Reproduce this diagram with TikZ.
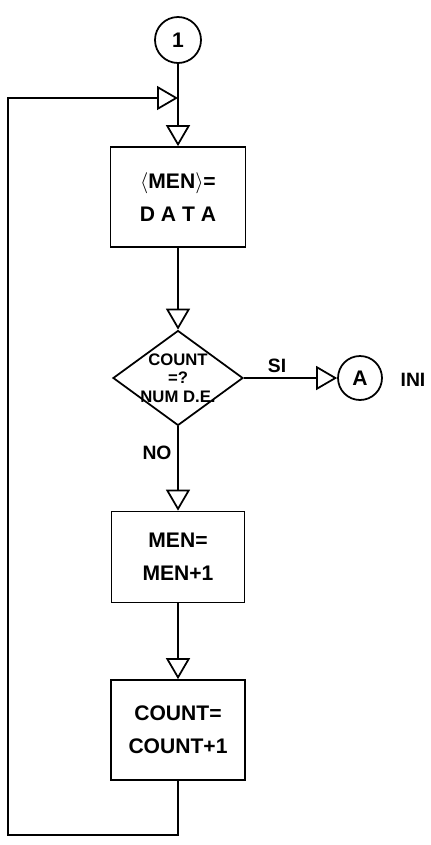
\documentclass[tikz,border=0pt]{standalone}
\usepackage{fontspec}
\setmainfont{Liberation Sans}
\usetikzlibrary{arrows.meta,positioning,shapes.geometric}
\tikzset{
  procbox/.style={
    draw, line width=1pt,
    minimum width=2.7cm, minimum height=2cm,
    align=center, font=\fontsize{12}{19}\selectfont\bfseries,
  },
  decbox/.style={
    draw, diamond, line width=1pt, aspect=1.37,
    minimum width=2.6cm, minimum height=1.9cm, inner sep=-3pt,
    align=center, font=\fontsize{9.5}{10.5}\selectfont\bfseries,
  },
  connector/.style={
    draw, circle, line width=1pt, minimum size=0.92cm, inner sep=0pt,
    font=\fontsize{12}{13}\selectfont\bfseries,
  },
  flowlabel/.style={
    font=\fontsize{11}{12}\selectfont\bfseries,
  },
  arr/.style={
    -{Triangle[open, length=0.42cm, width=0.48cm]}, line width=1pt,
  },
}

\begin{document}
\begin{tikzpicture}[x=0.02cm, y=-0.02cm]
\useasboundingbox (0,0) rectangle (431,845);

% ── connectors ───────────────────────────────────────────────
\node[connector] (start) at (178,40) {1};
\node[connector, minimum size=0.88cm] (ini) at (360,378) {A};
\node[flowlabel] (initxt) at (413,380) {INI};

% ── steps ────────────────────────────────────────────────────
\node[procbox] (setmem) at (178,197)
  {$\langle$MEN$\rangle$=\\D A T A};
\node[decbox] (test) at (178,378)
  {COUNT\\=?\\NUM D.E.};
\node[procbox, minimum width=2.66cm, minimum height=1.82cm] (incmem) at (178,557)
  {MEN=\\MEN+1};
\node[procbox, minimum width=2.68cm] (inccount) at (178,730)
  {COUNT=\\COUNT+1};

% ── branch labels ────────────────────────────────────────────
\node[flowlabel] (silbl) at (277,366) {SI};
\node[flowlabel] (nolbl) at (157,453) {NO};

% ── loop return ──────────────────────────────────────────────
\coordinate (join) at (178,98);
\coordinate (loopbot) at (8,835);

% ── arrows ───────────────────────────────────────────────────
\draw[arr] (start) -- (setmem);
\draw[arr] (setmem) -- (test);
\draw[arr] (test) -- (ini);
\draw[arr] (test) -- (incmem);
\draw[arr] (incmem) -- (inccount);
\draw[arr] (inccount.south) |- (loopbot) |- (join);

\end{tikzpicture}
\end{document}
